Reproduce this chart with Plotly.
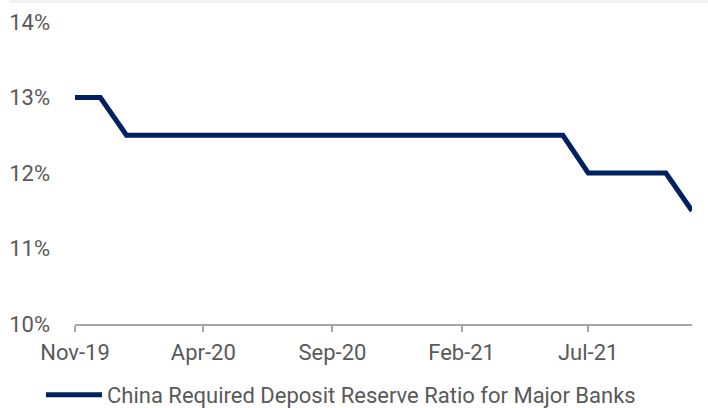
import plotly.graph_objects as go
import pandas as pd

dates = pd.date_range("2019-11-01", "2021-11-01", freq="MS")
ratio = [13.0, 13.0] + [12.5] * 18 + [12.0, 12.0, 12.0, 12.0, 11.5]
series_name = "China Required Deposit Reserve Ratio for Major Banks"
y_ticks = [10, 11, 12, 13, 14]
y_tick_text = ["10%", "11%", "12%", "13%", "14%"]

fig = go.Figure()
fig.add_trace(go.Scatter(
    x=dates, y=ratio, mode="lines", name=series_name,
    line=dict(color="#002060", width=5),
))

L, R, T, B = 75, 16, 22, 84
W, H = 708, 408
pw, ph = W - L - R, H - T - B

fig.update_layout(
    width=W, height=H,
    margin=dict(l=L, r=R, t=T, b=B, autoexpand=False),
    plot_bgcolor="white", paper_bgcolor="white",
    font=dict(family="Roboto, Arial, sans-serif", size=22, color="#595959"),
    showlegend=True,
    legend=dict(orientation="h", x=(47 - L - 6) / pw, xanchor="left",
                y=(T + ph - 395) / ph, yanchor="middle",
                font=dict(size=22, color="#595959"), itemwidth=56,
                bgcolor="rgba(0,0,0,0)"),
    xaxis=dict(
        range=[dates[0], dates[-1]],
        tickmode="linear", tick0="2019-11-01", dtick="M5", tickformat="%b-%y",
        showgrid=False, showline=True, linecolor="#a6a6a6", linewidth=1.5,
        ticks="outside", ticklen=6, tickcolor="#a6a6a6", tickwidth=1.5,
        ticklabelstandoff=2, zeroline=False,
    ),
    yaxis=dict(
        range=[10, 14], tickvals=y_ticks, ticktext=y_tick_text,
        showgrid=False, showline=False, zeroline=False,
        ticklabelstandoff=24,
    ),
    shapes=[dict(type="rect", xref="paper", yref="paper",
                 x0=(9 - L) / pw, x1=(W - L) / pw,
                 y0=1 + (T - 3) / ph, y1=1 + T / ph,
                 fillcolor="#f2f2f2", line=dict(width=0), layer="below")],
)

fig.write_html("out.html", config={"displayModeBar": False},
               post_script="document.body.style.margin='0';")
